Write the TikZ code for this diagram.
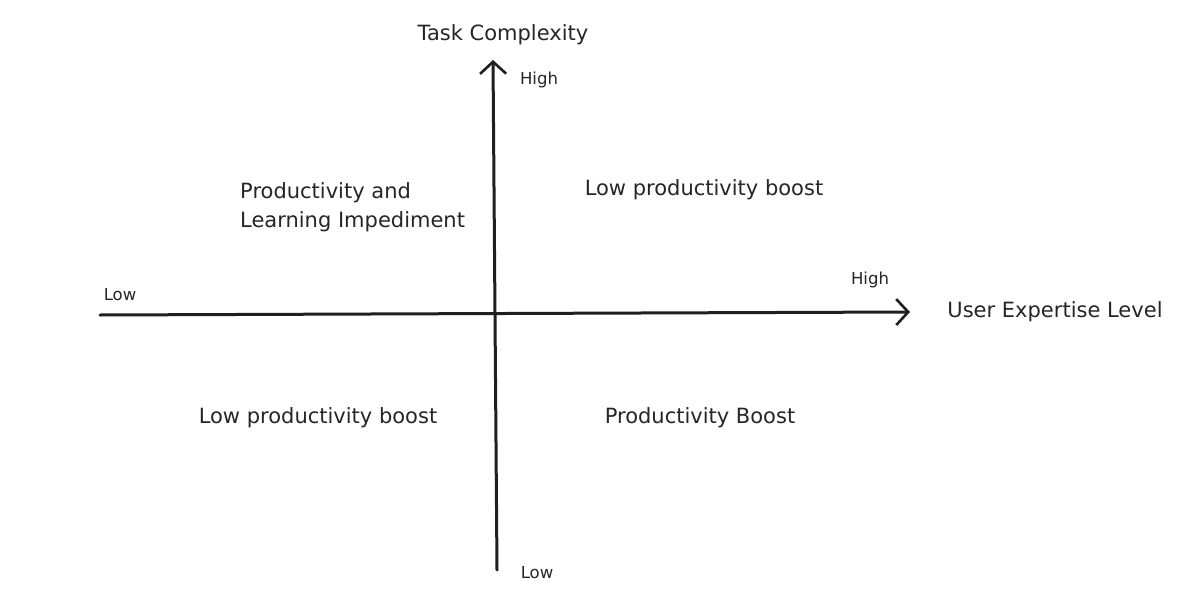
\documentclass[tikz,border=0pt]{standalone}
\usepackage{fontspec}
\setmainfont{DejaVu Sans}
\usetikzlibrary{arrows.meta}
\begin{document}
\begin{tikzpicture}[x=1pt,y=-1pt,
  lbl/.style={font=\fontsize{21}{29}\selectfont, text=black!85, inner sep=0pt},
  small/.style={font=\fontsize{16.5}{20}\selectfont, text=black!85, inner sep=0pt},
  axis/.style={line width=3pt, draw=black!88, line cap=round,
    -{Straight Barb[length=12pt,width=26pt,line width=2.6pt]}}]
\useasboundingbox[fill=white] (0,0) rectangle (1200,597);
\coordinate (xl) at (100,315);
\coordinate (xr) at (910,312);
\coordinate (yb) at (497,570);
\coordinate (yt) at (493,60);
\draw[axis] (xl) -- (xr);
\draw[axis] (yb) -- (yt);
\node[lbl] (ty) at (503,35) {Task Complexity};
\node[lbl] (tx) at (1055,312) {User Expertise Level};
\node[small] (yhigh) at (539,80) {High};
\node[small] (ylow) at (537,573) {Low};
\node[small] (xlow) at (120,295) {Low};
\node[small] (xhigh) at (870,280) {High};
\node[lbl, align=left, anchor=west] (q1) at (240,207) {Productivity and\\Learning Impediment};
\node[lbl] (q2) at (704,190) {Low productivity boost};
\node[lbl] (q3) at (318,418) {Low productivity boost};
\node[lbl] (q4) at (700,418) {Productivity Boost};
\end{tikzpicture}
\end{document}
